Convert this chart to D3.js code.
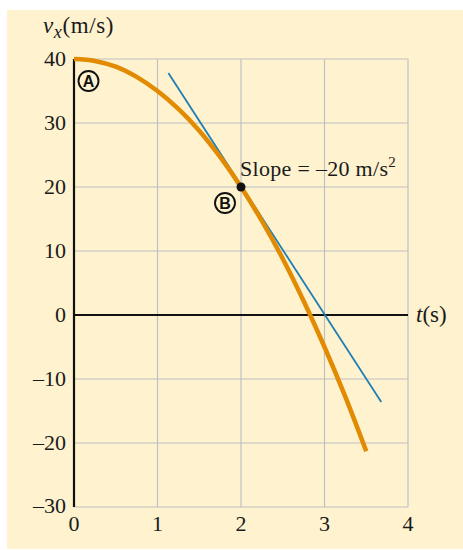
<!DOCTYPE html>
<html><head><meta charset="utf-8">
<script src="https://cdn.jsdelivr.net/npm/d3@7"></script>
<style>
html,body{margin:0;padding:0;background:#fff;}
svg{display:block;}
</style></head>
<body>
<svg id="c" width="463" height="550"></svg>
<script>
// Data
const curveT = [0, 0.25, 0.5, 0.75, 1, 1.25, 1.5, 1.75, 2, 2.25, 2.5, 2.75, 3, 3.25, 3.5];
const curveV = [40, 39.7, 38.8, 37.2, 35, 32.2, 28.8, 24.7, 20, 14.7, 8.8, 2.2, -5, -12.8, -21.3];
const tangentT = [1.13, 3.68];
const tangentV = [37.8, -13.6];
const pointA = {t: 0, v: 40};
const pointB = {t: 2, v: 20};
const xTicks = [0, 1, 2, 3, 4];
const yTicks = [-30, -20, -10, 0, 10, 20, 30, 40];
const yTickLabels = ["–30", "–20", "–10", "0", "10", "20", "30", "40"];
const slopeLabel = "Slope = –20 m/s";

const svg = d3.select("#c");
const serif = "'Liberation Serif','DejaVu Serif',serif";
const x = d3.scaleLinear().domain([0, 4]).range([74, 408]);
const y = d3.scaleLinear().domain([-30, 40]).range([507, 59]);

// panel background
svg.append("rect").attr("x", 7).attr("y", 10).attr("width", 456).attr("height", 539).attr("fill", "#FEF2CF");

// grid
const g = svg.append("g");
g.selectAll(".vg").data(xTicks.filter(d => d > 0)).join("line")
  .attr("x1", d => x(d)).attr("x2", d => x(d)).attr("y1", y(40)).attr("y2", y(-30))
  .attr("stroke", "#BFC0C4").attr("stroke-width", 1.2);
g.selectAll(".hg").data(yTicks.filter(d => d !== 0)).join("line")
  .attr("x1", x(0)).attr("x2", x(4)).attr("y1", d => y(d)).attr("y2", d => y(d))
  .attr("stroke", "#BFC0C4").attr("stroke-width", 1.2);

// axes lines
svg.append("line").attr("x1", x(0)).attr("x2", x(4)).attr("y1", y(0)).attr("y2", y(0))
  .attr("stroke", "#111").attr("stroke-width", 1.8);
svg.append("line").attr("x1", x(0)).attr("x2", x(0)).attr("y1", y(40)).attr("y2", y(-30))
  .attr("stroke", "#111").attr("stroke-width", 2.2);

// tick labels
svg.selectAll(".xl").data(xTicks).join("text")
  .attr("x", d => x(d)).attr("y", 531).attr("text-anchor", "middle")
  .attr("font-family", serif).attr("font-size", 22).attr("fill", "#1a1a1a").text(d => d);
svg.selectAll(".yl").data(yTicks).join("text")
  .attr("x", 66).attr("y", d => y(d) + (d === -30 ? -1 : 0)).attr("dy", "0.33em").attr("text-anchor", "end")
  .attr("font-family", serif).attr("font-size", 22).attr("fill", "#1a1a1a")
  .text((d, i) => yTickLabels[i]);

// axis titles
const yt = svg.append("text").attr("x", 43).attr("y", 33).attr("font-family", serif).attr("font-size", 23).attr("letter-spacing", 0.6).attr("fill", "#1a1a1a");
yt.append("tspan").attr("font-style", "italic").text("v");
yt.append("tspan").attr("font-style", "italic").attr("font-size", 18).attr("dy", 5).text("x");
yt.append("tspan").attr("dy", -5).text("(m/s)");
const xt = svg.append("text").attr("x", 416).attr("y", 322).attr("font-family", serif).attr("font-size", 23).attr("fill", "#1a1a1a");
xt.append("tspan").attr("font-style", "italic").text("t");
xt.append("tspan").text("(s)");

// tangent
const tangent = tangentT.map((t, i) => ({t, v: tangentV[i]}));
svg.append("path").datum(tangent)
  .attr("d", d3.line().x(d => x(d.t)).y(d => y(d.v)))
  .attr("stroke", "#1F7FB4").attr("stroke-width", 1.8).attr("fill", "none");

// curve
const curve = curveT.map((t, i) => ({t, v: curveV[i]}));
svg.append("path").datum(curve)
  .attr("d", d3.line().x(d => x(d.t)).y(d => y(d.v)).curve(d3.curveCatmullRom))
  .attr("stroke", "#E28A00").attr("stroke-width", 4.5).attr("fill", "none");

// point B dot
svg.append("circle").attr("cx", x(pointB.t)).attr("cy", y(pointB.v)).attr("r", 4.5).attr("fill", "#111");

// slope label
const sl = svg.append("text").attr("x", 240).attr("y", 176).attr("font-family", serif).attr("font-size", 22).attr("letter-spacing", 0.3).attr("fill", "#1a1a1a");
sl.append("tspan").text(slopeLabel);
sl.append("tspan").attr("font-size", 15).attr("dy", -9).text("2");

// circled letters
function circ(cx, cy, letter) {
  svg.append("circle").attr("cx", cx).attr("cy", cy).attr("r", 10).attr("fill", "none").attr("stroke", "#111").attr("stroke-width", 1.9);
  svg.append("text").attr("x", cx).attr("y", cy).attr("dy", "0.36em").attr("text-anchor", "middle")
    .attr("font-family", "'Liberation Sans',Arial,sans-serif").attr("font-weight", "bold").attr("font-size", 16).attr("fill", "#111").text(letter);
}
circ(x(pointA.t) + 14.5, y(pointA.v) + 22, "A");
circ(x(pointB.t) - 16, y(pointB.v) + 16, "B");
</script>
</body></html>
